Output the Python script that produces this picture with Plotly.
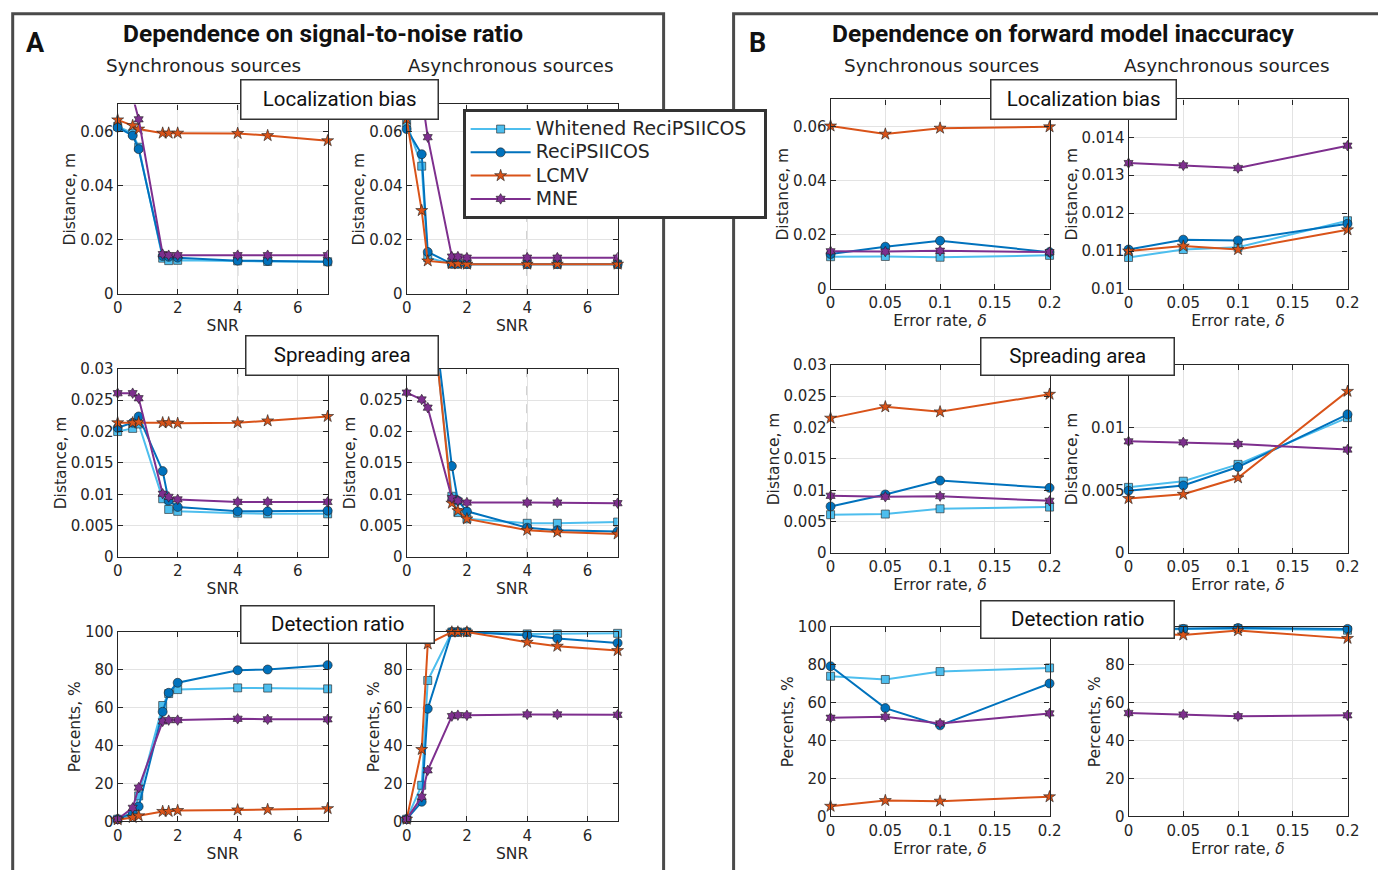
import plotly.graph_objects as go

# Figure size; layout positions below are given in page pixels and mapped
# to paper fractions through a small linear calibration of the page scale.
W, H = 1378, 870
SX, OX = 0.9878, 4.3
SY, OY = 0.982, 7.3

# ---------------- data ----------------
snr = [0, 0.5, 0.7, 1.5, 1.7, 2, 4, 5, 7]
delta = [0, 0.05, 0.1, 0.2]

methods = ["Whitened ReciPSIICOS", "ReciPSIICOS", "LCMV", "MNE"]
colors = ["#4DBEEE", "#0072BD", "#D95319", "#7E2F8E"]
symbols = ["square", "circle", "star", "hexagram"]
msizes = [8, 9, 9, 8]

# Dependence on SNR: localization bias (m)
loc_sync_snr = {
    "Whitened ReciPSIICOS": [0.0619, 0.0594, 0.0542, 0.0132, 0.0123, 0.0124, 0.0122, 0.0120, 0.0119],
    "ReciPSIICOS": [0.0615, 0.0585, 0.0535, 0.0140, 0.0137, 0.0134, 0.0123, 0.0122, 0.0119],
    "LCMV": [0.0643, 0.0622, 0.0609, 0.0594, 0.0594, 0.0594, 0.0593, 0.0585, 0.0566],
    "MNE": [0.080, 0.073, 0.0645, 0.0147, 0.0143, 0.0143, 0.0143, 0.0143, 0.0143],
}
loc_async_snr = {
    "Whitened ReciPSIICOS": [0.0631, 0.0472, 0.0134, 0.0111, 0.0111, 0.0110, 0.0110, 0.0110, 0.0110],
    "ReciPSIICOS": [0.0609, 0.0516, 0.0155, 0.0111, 0.0111, 0.0110, 0.0110, 0.0110, 0.0110],
    "LCMV": [0.0646, 0.0308, 0.0122, 0.0112, 0.0111, 0.0110, 0.0110, 0.0110, 0.0110],
    "MNE": [0.085, 0.0735, 0.0579, 0.0138, 0.0138, 0.0134, 0.0134, 0.0134, 0.0134],
}
# Dependence on SNR: spreading area (m)
spread_sync_snr = {
    "Whitened ReciPSIICOS": [0.0200, 0.0205, 0.0212, 0.0093, 0.0076, 0.0073, 0.0070, 0.0069, 0.0069],
    "ReciPSIICOS": [0.0206, 0.0214, 0.0224, 0.0137, 0.0090, 0.0080, 0.0073, 0.0073, 0.0074],
    "LCMV": [0.0214, 0.0214, 0.0215, 0.0214, 0.0214, 0.0213, 0.0214, 0.0217, 0.0224],
    "MNE": [0.0261, 0.0261, 0.0253, 0.0101, 0.0096, 0.0092, 0.0088, 0.0088, 0.0088],
}
spread_async_snr = {
    "Whitened ReciPSIICOS": [0.050, 0.048, 0.045, 0.0097, 0.0071, 0.0061, 0.0054, 0.0054, 0.0056],
    "ReciPSIICOS": [0.051, 0.049, 0.046, 0.0145, 0.0090, 0.0073, 0.0047, 0.0043, 0.0041],
    "LCMV": [0.050, 0.048, 0.046, 0.0086, 0.0074, 0.0061, 0.0043, 0.0040, 0.0037],
    "MNE": [0.0262, 0.0251, 0.0238, 0.0094, 0.0090, 0.0087, 0.0087, 0.0087, 0.0086],
}
# Dependence on SNR: detection ratio (%)
det_sync_snr = {
    "Whitened ReciPSIICOS": [1.2, 3.3, 13.5, 61.2, 67.5, 69.6, 70.5, 70.4, 70.0],
    "ReciPSIICOS": [1.2, 4.7, 7.9, 57.9, 67.9, 73.2, 79.8, 80.2, 82.5],
    "LCMV": [0.9, 2.1, 3.0, 5.3, 5.3, 5.8, 6.1, 6.3, 6.8],
    "MNE": [1.2, 7.2, 17.9, 52.8, 53.5, 53.5, 54.2, 53.9, 53.9],
}
det_async_snr = {
    "Whitened ReciPSIICOS": [1.2, 19.1, 74.4, 100, 100, 100, 99.0, 99.0, 99.3],
    "ReciPSIICOS": [1.2, 10.4, 59.5, 100, 100, 100, 98.2, 96.5, 94.2],
    "LCMV": [1.2, 38.0, 93.7, 100, 100, 100, 94.6, 92.5, 90.2],
    "MNE": [1.2, 13.0, 27.0, 55.6, 56.1, 56.0, 56.5, 56.5, 56.3],
}

# Dependence on forward model error rate: localization bias (m)
loc_sync_err = {
    "Whitened ReciPSIICOS": [0.0119, 0.0120, 0.0117, 0.0124],
    "ReciPSIICOS": [0.0129, 0.0156, 0.0178, 0.0136],
    "LCMV": [0.0602, 0.0572, 0.0594, 0.0599],
    "MNE": [0.0139, 0.0138, 0.0141, 0.0136],
}
loc_async_err = {
    "Whitened ReciPSIICOS": [0.01083, 0.01104, 0.0111, 0.0118],
    "ReciPSIICOS": [0.01104, 0.0113, 0.01128, 0.01172],
    "LCMV": [0.0110, 0.01113, 0.01104, 0.01156],
    "MNE": [0.01332, 0.01326, 0.01319, 0.01378],
}
# spreading area (m)
spread_sync_err = {
    "Whitened ReciPSIICOS": [0.00613, 0.00623, 0.00707, 0.00734],
    "ReciPSIICOS": [0.00745, 0.00935, 0.01156, 0.0104],
    "LCMV": [0.0215, 0.0233, 0.0225, 0.0253],
    "MNE": [0.00914, 0.00898, 0.00908, 0.00834],
}
spread_async_err = {
    "Whitened ReciPSIICOS": [0.00524, 0.00573, 0.00707, 0.01079],
    "ReciPSIICOS": [0.00497, 0.00539, 0.00686, 0.01105],
    "LCMV": [0.00435, 0.00469, 0.0060, 0.01288],
    "MNE": [0.0089, 0.00882, 0.00869, 0.00825],
}
# detection ratio (%)
det_sync_err = {
    "Whitened ReciPSIICOS": [74.0, 72.3, 76.5, 78.4],
    "ReciPSIICOS": [79.3, 57.2, 48.1, 70.2],
    "LCMV": [5.4, 8.4, 8.1, 10.4],
    "MNE": [52.1, 52.6, 49.1, 54.4],
}
det_async_err = {
    "Whitened ReciPSIICOS": [98.0, 99.0, 99.2, 98.3],
    "ReciPSIICOS": [98.8, 99.0, 99.5, 99.0],
    "LCMV": [97.0, 95.8, 98.1, 94.0],
    "MNE": [54.6, 53.8, 52.9, 53.4],
}

# tick positions and labels (top labels of some right-hand panels sit under a title box)
snr_ticks = [0, 2, 4, 6]
snr_labels = ["0", "2", "4", "6"]
err_ticks = [0, 0.05, 0.1, 0.15, 0.2]
err_labels = ["0", "0.05", "0.1", "0.15", "0.2"]
loc_ticks = [0, 0.02, 0.04, 0.06]
loc_labels = ["0", "0.02", "0.04", "0.06"]
loc_fine_ticks = [0.01, 0.011, 0.012, 0.013, 0.014, 0.015]
loc_fine_labels = ["0.01", "0.011", "0.012", "0.013", "0.014", ""]
spread_ticks = [0, 0.005, 0.01, 0.015, 0.02, 0.025, 0.03]
spread_labels = ["0", "0.005", "0.01", "0.015", "0.02", "0.025", "0.03"]
spread_labels_hidden_top = ["0", "0.005", "0.01", "0.015", "0.02", "0.025", ""]
spread_fine_ticks = [0, 0.005, 0.01, 0.015]
spread_fine_labels = ["0", "0.005", "0.01", ""]
pct_ticks = [0, 20, 40, 60, 80, 100]
pct_labels = ["0", "20", "40", "60", "80", "100"]
pct_labels_hidden_top = ["0", "20", "40", "60", "80", ""]


# ---------------- layout helpers ----------------
def px(x):
    return ((x - OX) / SX) / W


def py(y):
    return 1 - ((y - OY) / SY) / H


AXC = "#262626"
TICKFONT = dict(family="DejaVu Sans", size=15, color=AXC)
TITLEFONT = dict(family="DejaVu Sans", size=15.5, color=AXC)

# columns (left, right) and rows (top, bottom) in page pixels
colA = [(117, 327), (406, 617)]
colB = [(830, 1049), (1128, 1347)]
rowsA = [(103, 293), (368, 557), (632, 822)]
rowsB = [(98, 288), (364, 553), (627, 817)]

panels = [
    # data, x, column, row, y range, y ticks, y labels, y title, dashed x=4
    (loc_sync_snr, snr, colA[0], rowsA[0], [0, 0.07], loc_ticks, loc_labels, "Distance, m", True),
    (loc_async_snr, snr, colA[1], rowsA[0], [0, 0.07], loc_ticks, loc_labels, "Distance, m", True),
    (spread_sync_snr, snr, colA[0], rowsA[1], [0, 0.03], spread_ticks, spread_labels, "Distance, m", True),
    (spread_async_snr, snr, colA[1], rowsA[1], [0, 0.03], spread_ticks, spread_labels_hidden_top, "Distance, m", True),
    (det_sync_snr, snr, colA[0], rowsA[2], [0, 100], pct_ticks, pct_labels, "Percents, %", False),
    (det_async_snr, snr, colA[1], rowsA[2], [0, 100], pct_ticks, pct_labels_hidden_top, "Percents, %", False),
    (loc_sync_err, delta, colB[0], rowsB[0], [0, 0.07], loc_ticks, loc_labels, "Distance, m", False),
    (loc_async_err, delta, colB[1], rowsB[0], [0.01, 0.015], loc_fine_ticks, loc_fine_labels, "Distance, m", False),
    (spread_sync_err, delta, colB[0], rowsB[1], [0, 0.03], spread_ticks, spread_labels, "Distance, m", False),
    (spread_async_err, delta, colB[1], rowsB[1], [0, 0.015], spread_fine_ticks, spread_fine_labels, "Distance, m", False),
    (det_sync_err, delta, colB[0], rowsB[2], [0, 100], pct_ticks, pct_labels, "Percents, %", False),
    (det_async_err, delta, colB[1], rowsB[2], [0, 100], pct_ticks, pct_labels_hidden_top, "Percents, %", False),
]

fig = go.Figure()
layout = {}
shapes = []

for i, (series, xs, (l, r), (t, b), yr, yt, yl, ytitle, dashed) in enumerate(panels, 1):
    xname = "x" if i == 1 else f"x{i}"
    yname = "y" if i == 1 else f"y{i}"
    is_snr = xs is snr
    for k, m in enumerate(methods):
        vals = series[m]
        inside = all(yr[0] <= v <= yr[1] for v in vals)
        fig.add_trace(go.Scatter(
            x=xs, y=vals, mode="lines+markers",
            name=f'<span style="font-size:18.9px">{m}&nbsp;&nbsp;</span>',
            xaxis=xname, yaxis=yname, showlegend=(i == 1),
            cliponaxis=not inside,
            line=dict(color=colors[k], width=2),
            marker=dict(symbol=symbols[k], size=msizes[k], color=colors[k],
                        line=dict(color="rgba(30,30,30,0.75)", width=0.8)),
        ))
    common = dict(showline=True, linecolor=AXC, linewidth=1.2, mirror="ticks",
                  ticks="inside", ticklen=5, tickcolor=AXC, tickwidth=1,
                  showgrid=True, gridcolor="#e3e3e3", gridwidth=1,
                  zeroline=False, tickfont=TICKFONT, fixedrange=True)
    layout["xaxis" if i == 1 else f"xaxis{i}"] = dict(
        common, domain=[px(l), px(r)], anchor=yname,
        range=[0, 7] if is_snr else [0, 0.2],
        tickmode="array",
        tickvals=snr_ticks if is_snr else err_ticks,
        ticktext=snr_labels if is_snr else err_labels,
        title=dict(text="SNR" if is_snr else "Error rate, <i>δ</i>",
                   font=TITLEFONT, standoff=2),
    )
    layout["yaxis" if i == 1 else f"yaxis{i}"] = dict(
        common, domain=[py(b), py(t)], anchor=xname, range=yr,
        tickmode="array", tickvals=yt, ticktext=yl,
        title=dict(text=ytitle, font=TITLEFONT, standoff=0),
    )
    if dashed:
        shapes.append(dict(type="line", xref=xname, yref=f"{yname} domain",
                           x0=4, x1=4, y0=0, y1=1, layer="below",
                           line=dict(color="#6e6e6e", width=1, dash="dash")))

# panel frames
for x0, x1 in [(12, 663), (733, 1420)]:
    shapes.append(dict(type="rect", xref="paper", yref="paper",
                       x0=px(x0), x1=px(x1), y0=py(12), y1=py(940),
                       line=dict(color="#4a4a4a", width=3), layer="below"))

annotations = []


def text(x, y, s, size, family="Roboto", bold=False, color="#111111"):
    annotations.append(dict(
        x=px(x), y=py(y), xref="paper", yref="paper", showarrow=False,
        text=f"<b>{s}</b>" if bold else s, xanchor="center", yanchor="middle",
        font=dict(family=family, size=size, color=color)))


text(35, 41.5, "A", 27, bold=True)
text(757, 41.5, "B", 27, bold=True)
text(322, 31.5, "Dependence on signal-to-noise ratio", 24.5, bold=True)
text(1063, 31.5, "Dependence on forward model inaccuracy", 24.5, bold=True)
for cx, s in [(203, "Synchronous sources"), (510, "Asynchronous sources"),
              (941, "Synchronous sources"), (1226, "Asynchronous sources")]:
    text(cx, 63.5, s, 18.4, family="DejaVu Sans", color="#222222")


def boxed(x0, x1, y0, y1, s):
    annotations.append(dict(
        x=px((x0 + x1) / 2), y=py((y0 + y1) / 2), xref="paper", yref="paper",
        showarrow=False, text=s, xanchor="center", yanchor="middle",
        width=(x1 - x0) / SX - 3, height=(y1 - y0) / SY - 3, borderpad=0,
        bgcolor="white", bordercolor="#333333", borderwidth=1.5,
        font=dict(family="Roboto", size=20.5, color="#111111")))


boxed(240, 437, 78, 118, "Localization bias")
boxed(245, 437, 335, 375, "Spreading area")
boxed(240, 433, 605, 643, "Detection ratio")
boxed(990, 1175, 78, 118, "Localization bias")
boxed(980, 1173, 337, 375, "Spreading area")
boxed(980, 1173, 600, 638, "Detection ratio")

fig.update_layout(
    width=W, height=H, margin=dict(l=0, r=0, t=0, b=0),
    paper_bgcolor="white", plot_bgcolor="white",
    shapes=shapes, annotations=annotations,
    legend=dict(x=px(462), y=py(108), xanchor="left", yanchor="top",
                bgcolor="white", bordercolor="#333333", borderwidth=3,
                font=dict(family="DejaVu Sans", size=15.6, color=AXC),
                itemwidth=60, tracegroupgap=0),
    **layout,
)

fig.write_html("out.html")
